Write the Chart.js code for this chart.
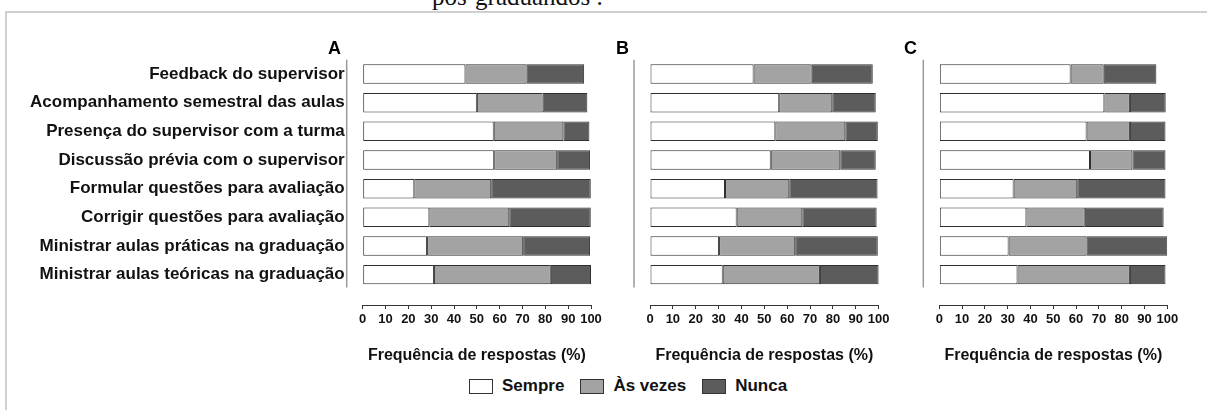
<!DOCTYPE html>
<html>
<head>
<meta charset="utf-8">
<script src="https://cdn.jsdelivr.net/npm/chart.js@4.4.0/dist/chart.umd.min.js"></script>
<style>
  body { margin: 0; width: 1207px; height: 410px; overflow: hidden; background: #fff; position: relative;
         font-family: "Liberation Sans", Arial, sans-serif; }
  .frame { position: absolute; left: 5px; top: 11px; width: 1400px; height: 600px; border: 2px solid #d0d0d0; }
  .toptext { position: absolute; left: 432px; top: -17px; font: 25px "Liberation Serif", serif; color: #111; white-space: nowrap; }
  .panel { position: absolute; top: 0; }
  .letter { position: absolute; top: 38px; font-weight: bold; font-size: 18px; color: #000; }
  #legend { position: absolute; top: 376px; left: 469px; display: flex; align-items: center;
            font-weight: bold; font-size: 17px; color: #111; }
  #legend .box { width: 22px; height: 13px; border: 1px solid #333; margin-right: 9px; }
  #legend .item { display: flex; align-items: center; margin-right: 16px; }
</style>
</head>
<body>
<div class="frame"></div>
<div class="toptext">pós-graduandos .</div>

<div class="panel" style="left:0"><canvas id="chartA" width="610" height="365"></canvas></div>
<div class="panel" style="left:610px"><canvas id="chartB" width="300" height="365"></canvas></div>
<div class="panel" style="left:910px"><canvas id="chartC" width="297" height="365"></canvas></div>

<div class="letter" style="left:328px">A</div>
<div class="letter" style="left:616px">B</div>
<div class="letter" style="left:904px">C</div>

<div id="legend"></div>

<script>
const categories = [
    'Feedback do supervisor',
    'Acompanhamento semestral das aulas',
    'Presença do supervisor com a turma',
    'Discussão prévia com o supervisor',
    'Formular questões para avaliação',
    'Corrigir questões para avaliação',
    'Ministrar aulas práticas na graduação',
    'Ministrar aulas teóricas na graduação'
]
const seriesNames = ['Sempre', 'Às vezes', 'Nunca']
const seriesColors = ['#ffffff', '#a3a3a3', '#5c5c5c']

// panel A
const sempreA = [45.0, 50.0, 57.4, 57.6, 22.6, 29.2, 28.2, 31.2]
const vezesA  = [26.8, 28.8, 30.5, 27.6, 33.7, 35.0, 42.1, 51.2]
const nuncaA  = [25.2, 19.6, 11.4, 14.4, 43.6, 35.7, 29.3, 17.6]
// panel B
const sempreB = [45.3, 56.5, 54.8, 52.8, 32.8, 37.9, 30.2, 31.8]
const vezesB  = [25.4, 23.2, 30.6, 30.4, 28.1, 28.7, 33.3, 42.5]
const nuncaB  = [26.7, 19.0, 14.2, 15.5, 38.6, 32.5, 36.1, 25.7]
// panel C
const sempreC = [57.6, 72.4, 64.6, 66.1, 32.6, 38.2, 30.4, 34.3]
const vezesC  = [14.5, 11.2, 19.0, 18.6, 27.9, 25.6, 34.2, 49.3]
const nuncaC  = [23.1, 15.7, 15.6, 14.5, 38.7, 34.6, 35.4, 15.6]

const xTickStep = 10
const axisTitle = 'Frequência de respostas (%)'

// vertical line left of the bars (the y axis of the original figure)
const axisLine = {
    id: 'axisLine',
    afterDraw(chart) {
        const {ctx, chartArea, scales} = chart
        const x = chartArea.left - 16
        ctx.save()
        ctx.strokeStyle = '#9a9a9a'
        ctx.lineWidth = 1.5
        ctx.beginPath()
        ctx.moveTo(x, chartArea.top)
        ctx.lineTo(x, scales.y.getPixelForValue(7.45))
        ctx.stroke()
        ctx.restore()
    }
}

const makePanel = (id, values, showLabels, padLeft, padRight) => {
    const datasets = values.map((data, i) => ({
        label: seriesNames[i],
        data: data,
        backgroundColor: seriesColors[i],
        borderColor: '#2e2e2e',
        borderWidth: 1,
        borderSkipped: false,
        barPercentage: 0.68,
        categoryPercentage: 1
    }))
    return new Chart(document.getElementById(id), {
        type: 'bar',
        data: { labels: categories.map((c, i) => i), datasets: datasets },
        plugins: [axisLine],
        options: {
            indexAxis: 'y',
            responsive: false,
            animation: false,
            layout: { padding: { left: padLeft, right: padRight, top: 59.7, bottom: 0 } },
            plugins: { legend: { display: false }, tooltip: { enabled: false } },
            scales: {
                x: {
                    stacked: true,
                    min: 0,
                    max: 100,
                    ticks: { stepSize: xTickStep, autoSkip: false, maxRotation: 0, padding: 3,
                             color: '#111', font: { family: 'Liberation Sans', weight: 'bold', size: 13 } },
                    grid: { drawOnChartArea: false, tickLength: 4, color: '#333' },
                    border: { color: '#333', width: 1 },
                    title: { display: true, text: axisTitle, color: '#111', padding: { top: 0, bottom: 0 },
                             font: { family: 'Liberation Sans', weight: 'bold', size: 16 } },
                    afterFit: s => { s.height = 60 }
                },
                y: {
                    type: 'linear',
                    stacked: true,
                    reverse: true,
                    offset: false,
                    min: -0.5,
                    max: 8.06,
                    display: showLabels,
                    grid: { display: false, drawTicks: false },
                    border: { display: false },
                    ticks: { stepSize: 1, includeBounds: false, autoSkip: false, padding: 18, color: '#111',
                             font: { family: 'Liberation Sans', weight: 'bold', size: 17 },
                             callback: v => categories[v] ?? '' },
                    afterFit: s => { if (showLabels) s.width = 362.7 }
                }
            }
        }
    })
}

makePanel('chartA', [sempreA, vezesA, nuncaA], true, 0, 19)
makePanel('chartB', [sempreB, vezesB, nuncaB], false, 40, 31.3)
makePanel('chartC', [sempreC, vezesC, nuncaC], false, 29.3, 39.7)

// legend below the three panels
const legend = document.getElementById('legend')
seriesNames.forEach((name, i) => {
    const item = document.createElement('div')
    item.className = 'item'
    const box = document.createElement('div')
    box.className = 'box'
    box.style.background = seriesColors[i]
    item.appendChild(box)
    item.appendChild(document.createTextNode(name))
    legend.appendChild(item)
})
</script>
</body>
</html>
